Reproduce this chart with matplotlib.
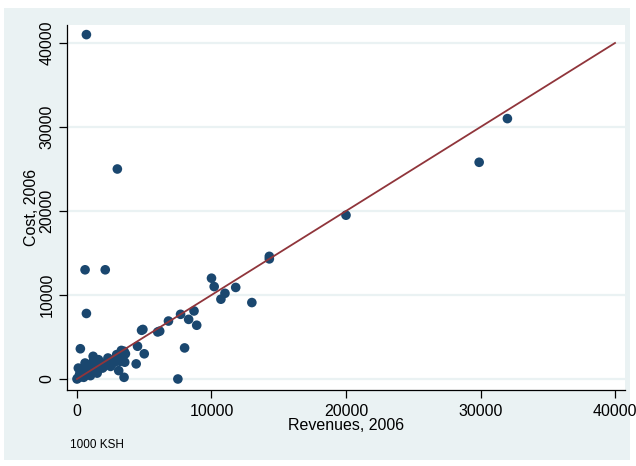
import numpy as np
import matplotlib
matplotlib.use("Agg")
import matplotlib.pyplot as plt
from matplotlib.patches import Rectangle

# revenues vs cost, 1000 KSH
revenues = [700, 3000, 600, 2100, 700, 29900, 32000, 20000, 14300, 14300,
            10000, 10200, 11800, 11000, 10700, 13000, 7700, 8700, 8300, 8900,
            6800, 6000, 6150, 4800, 8000, 7500, 4500, 5000, 4400, 4900,
            0, 100, 250, 200, 300, 400, 500, 600, 700, 800,
            900, 1000, 1100, 1200, 1300, 1400, 1500, 1600, 1700, 1800,
            1900, 2000, 2200, 2300, 2400, 2600, 2800, 2950, 3100, 3200,
            3300, 3400, 3500, 3550, 3500, 3600, 150, 50, 350, 3000,
            1000, 1500, 2500, 600, 1200]
cost = [41000, 25000, 13000, 13000, 7800, 25800, 31000, 19500, 14600, 14300,
        12000, 11000, 10900, 10200, 9500, 9100, 7700, 8100, 7100, 6400,
        6900, 5600, 5700, 5800, 3700, 0, 3900, 3000, 1800, 5900,
        0, 1300, 3600, 600, 300, 800, 200, 1000, 500, 1400,
        700, 1700, 1200, 2700, 900, 1600, 1100, 2300, 1400, 1800,
        1300, 1500, 2000, 2500, 1800, 2200, 2000, 2900, 1000, 2100,
        3400, 2600, 3300, 2000, 200, 3000, 200, 100, 500, 2500,
        400, 700, 1500, 1900, 2100]
fit_x = [0, 40000]
fit_y = [0, 40000]

ticks = [0, 10000, 20000, 30000, 40000]
bg = "#EAF2F3"

plt.rcParams["font.family"] = ["Liberation Sans", "DejaVu Sans"]

fig = plt.figure(figsize=(6.36, 4.66), dpi=100)
fig.patch.set_facecolor("white")
fig.patches.append(Rectangle((4 / 636, 1 - 460 / 466), 626 / 636, 452 / 466,
                             transform=fig.transFigure, facecolor=bg,
                             edgecolor="none", zorder=-10))

ax = fig.add_axes([67 / 636, 1 - 390 / 466, 558 / 636, 365 / 466])
ax.set_facecolor("white")

ax.scatter(revenues, cost, s=48, color="#1A476F", edgecolors="none", zorder=3)
ax.plot(fit_x, fit_y, color="#90353B", lw=1.3, zorder=4)

ax.set_xlim(-743, 40743)
ax.set_ylim(-1310, 42143)
ax.set_xticks(ticks)
ax.set_yticks(ticks)
ax.set_yticklabels([str(t) for t in ticks], rotation=90, va="center")
ax.tick_params(direction="out", length=6, width=0.9, labelsize=11.5, pad=4)
ax.tick_params(axis="y", pad=3)
for t in ticks:
    ax.axhline(t, color=bg, lw=1.6, zorder=1)

for side in ["top", "right"]:
    ax.spines[side].set_visible(False)
for side in ["left", "bottom"]:
    ax.spines[side].set_linewidth(0.9)

ax.set_xlabel("Revenues, 2006", fontsize=11.5, labelpad=-1)
ax.set_ylabel("Cost, 2006", fontsize=11.5, labelpad=0)

fig.text(70 / 636, 1 - 445 / 466, "1000 KSH", fontsize=8.5, va="center")

fig.savefig("out.png", dpi=100)
